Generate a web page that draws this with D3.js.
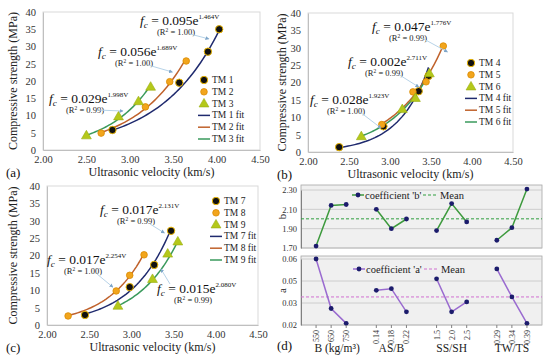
<!DOCTYPE html>
<html>
<head>
<meta charset="utf-8">
<script src="https://cdn.jsdelivr.net/npm/d3@7"></script>
<style>
  body { margin: 0; background: #fff; }
</style>
</head>
<body>
<svg id="chart" width="550" height="358" font-family="Liberation Serif, DejaVu Serif, serif"></svg>
<script>
// ---- data ----
var mixNames = ["TM 1", "TM 2", "TM 3", "TM 4", "TM 5", "TM 6", "TM 7", "TM 8", "TM 9"];
var velocity = [
  [2.80, 3.57, 3.90, 4.03],
  [2.67, 3.18, 3.46, 3.65],
  [2.50, 2.87, 3.10, 3.24],
  [2.38, 2.92, 3.35, 3.47],
  [2.90, 3.28, 3.44, 3.65],
  [2.65, 3.15, 3.31, 3.48],
  [2.45, 2.98, 3.27, 3.47],
  [2.25, 2.82, 2.98, 3.15],
  [2.84, 3.25, 3.43, 3.55]
];
var strength = [
  [5.8, 19.5, 28.5, 35.0],
  [4.9, 12.5, 19.8, 25.8],
  [4.2, 9.7, 14.1, 18.3],
  [1.4, 7.4, 17.5, 21.9],
  [7.9, 17.3, 20.2, 30.5],
  [4.5, 12.3, 15.5, 22.6],
  [2.9, 10.9, 17.3, 27.1],
  [2.6, 9.8, 14.3, 20.2],
  [5.5, 13.2, 20.5, 24.0]
];
var coefA = [0.095, 0.056, 0.029, 0.002, 0.047, 0.028, 0.017, 0.017, 0.015];
var coefB = [1.464, 1.689, 1.998, 2.711, 1.776, 1.923, 2.131, 2.254, 2.080];
var rSquared = ["1.00", "1.00", "0.99", "0.99", "0.99", "1.00", "0.99", "1.00", "0.99"];
var xTicks = [2.00, 2.50, 3.00, 3.50, 4.00, 4.50];
var yTicks = [0, 5, 10, 15, 20, 25, 30, 35, 40];

var factorNames = ["B (kg/m\u00b3)", "AS/B", "SS/SH", "TW/TS"];
var levelNames = [["550", "650", "750"], ["0.14", "0.18", "0.22"], ["1.5", "2.0", "2.5"], ["0.29", "0.34", "0.39"]];
var levelB = [[1.72, 2.14, 2.15], [2.10, 1.90, 2.00], [1.88, 2.16, 1.97], [1.78, 1.91, 2.31]];
var levelA = [[0.060, 0.030, 0.021], [0.041, 0.042, 0.028], [0.048, 0.028, 0.034], [0.054, 0.037, 0.021]];
var bTicks = [1.70, 1.90, 2.10, 2.30];
var aTicks = [0.02, 0.02 + 0.04 / 3, 0.02 + 0.08 / 3, 0.06];

// ---- styles ----
var serif = "'Liberation Serif', 'DejaVu Serif', serif";
var fitColor = ["#1f2a6e", "#c0622c", "#3a9a5c"];
var svg = d3.select("#chart");

var panels = [
  {tag: "(a)", series: [0, 1, 2], l: 43, r: 260, t: 12, b: 150, tagX: 6, titleX: 13,
   legX: 204, legY: 80,
   notes: [
     {s: 0, x: 140, y: 25, from: [190, 34], tip: [3.91, 32.2]},
     {s: 1, x: 98, y: 56, from: [148, 65], tip: [3.49, 22.6]},
     {s: 2, x: 49, y: 103, from: [97, 110], tip: [2.92, 11.3]}]},
  {tag: "(b)", series: [3, 4, 5], l: 308, r: 513, t: 13, b: 152, tagX: 277, titleX: 282,
   legX: 471, legY: 63,
   notes: [
     {s: 4, x: 372, y: 31, from: [422, 38], tip: [3.70, 28.8]},
     {s: 3, x: 348, y: 66, from: [398, 74], tip: [3.35, 18.7]},
     {s: 5, x: 310, y: 104, from: [360, 112], tip: [2.89, 6.9]}]},
  {tag: "(c)", series: [6, 7, 8], l: 47, r: 258, t: 186, b: 325, tagX: 6, titleX: 13,
   legX: 216, legY: 201,
   notes: [
     {s: 6, x: 100, y: 214, from: [150, 224], tip: [3.39, 26.5]},
     {s: 7, x: 47, y: 264, from: [97, 274], tip: [2.78, 10.9]},
     {s: 8, x: 157, y: 293, from: [170, 284], tip: [3.35, 16.1]}]}
];

svg.append("defs").append("marker")
  .attr("id", "arrow").attr("viewBox", "0 0 6 6").attr("refX", 5).attr("refY", 3)
  .attr("markerWidth", 4).attr("markerHeight", 4).attr("orient", "auto")
  .append("path").attr("d", "M0,0L6,3L0,6Z").attr("fill", "#7fa6c9");

function drawMarker(g, kind, cx, cy) {
  if (kind == 0) {
    g.append("circle").attr("cx", cx).attr("cy", cy).attr("r", 3.7)
      .attr("fill", "#111").attr("stroke", "#e9b400").attr("stroke-width", 1);
  } else if (kind == 1) {
    g.append("circle").attr("cx", cx).attr("cy", cy).attr("r", 3.3)
      .attr("fill", "#f2a51c").attr("stroke", "#d98a00").attr("stroke-width", 0.8);
  } else {
    g.append("path").attr("d", d3.symbol(d3.symbolTriangle, 42)())
      .attr("transform", "translate(" + cx + "," + (cy + 0.5) + ")")
      .attr("fill", "#b4c81a").attr("stroke", "#98ad10").attr("stroke-width", 0.6);
  }
}

function equation(g, s, x, y) {
  var t = g.append("text").attr("x", x).attr("y", y).attr("font-size", 13.5).attr("fill", "#111");
  t.append("tspan").attr("font-style", "italic").text("f");
  t.append("tspan").attr("font-style", "italic").attr("font-size", 9).attr("dy", 3).text("c");
  t.append("tspan").attr("dy", -3).text(" = " + coefA[s].toFixed(3) + "e");
  t.append("tspan").attr("font-size", 7).attr("dy", -6).text(coefB[s].toFixed(3) + "V");
  var r = g.append("text").attr("x", x + 17).attr("y", y + 10).attr("font-size", 8.5).attr("fill", "#222");
  r.append("tspan").text("(R");
  r.append("tspan").attr("font-size", 5.5).attr("dy", -3).text("2");
  r.append("tspan").attr("dy", 3).text(" = " + rSquared[s] + ")");
}

panels.forEach(function(p) {
  var g = svg.append("g");
  var x = d3.scaleLinear().domain([2, 4.5]).range([p.l, p.r]);
  var y = d3.scaleLinear().domain([0, 40]).range([p.b, p.t]);

  g.append("rect").attr("x", p.l).attr("y", p.t).attr("width", p.r - p.l).attr("height", p.b - p.t)
    .attr("fill", "#fff").attr("stroke", "#d9d9d9");

  var ya = g.append("g").attr("transform", "translate(" + p.l + ",0)")
    .call(d3.axisLeft(y).tickValues(yTicks).tickSize(0).tickPadding(7).tickFormat(d3.format("d")));
  var xa = g.append("g").attr("transform", "translate(0," + p.b + ")")
    .call(d3.axisBottom(x).tickValues(xTicks).tickSize(0).tickPadding(6).tickFormat(d3.format(".2f")));
  [ya, xa].forEach(function(a) {
    a.attr("font-family", null);
    a.select(".domain").attr("stroke", "#bfbfbf");
    a.selectAll("text").attr("font-size", 10.5).attr("fill", "#333");
  });

  // fitted trendlines
  var line = d3.line().x(function(d) { return x(d[0]); }).y(function(d) { return y(d[1]); });
  p.series.forEach(function(s, k) {
    var ext = d3.extent(velocity[s]);
    var pts = d3.range(41).map(function(i) {
      var v = ext[0] + (ext[1] - ext[0]) * i / 40;
      return [v, coefA[s] * Math.exp(coefB[s] * v)];
    });
    g.append("path").attr("d", line(pts)).attr("fill", "none")
      .attr("stroke", fitColor[k]).attr("stroke-width", 1.5);
  });

  // points
  p.series.forEach(function(s, k) {
    velocity[s].forEach(function(v, i) { drawMarker(g, k, x(v), y(strength[s][i])); });
  });

  // equations + arrows
  p.notes.forEach(function(n) {
    equation(g, n.s, n.x, n.y);
    g.append("line").attr("x1", n.from[0]).attr("y1", n.from[1])
      .attr("x2", x(n.tip[0])).attr("y2", y(n.tip[1]))
      .attr("stroke", "#b7d3e8").attr("stroke-width", 1).attr("marker-end", "url(#arrow)");
  });

  // legend
  var lg = g.append("g");
  p.series.forEach(function(s, k) {
    var yy = p.legY + k * 11.8;
    drawMarker(lg, k, p.legX, yy);
    lg.append("text").attr("x", p.legX + 8).attr("y", yy + 3).attr("font-size", 9.5).attr("fill", "#222").text(mixNames[s]);
  });
  p.series.forEach(function(s, k) {
    var yy = p.legY + (k + 3) * 11.8;
    lg.append("line").attr("x1", p.legX - 6).attr("x2", p.legX + 6).attr("y1", yy).attr("y2", yy)
      .attr("stroke", fitColor[k]).attr("stroke-width", 1.5);
    lg.append("text").attr("x", p.legX + 8).attr("y", yy + 3).attr("font-size", 9.5).attr("fill", "#222").text(mixNames[s] + " fit");
  });

  // titles
  g.append("text").attr("x", (p.l + p.r) / 2).attr("y", p.b + 26).attr("text-anchor", "middle")
    .attr("font-size", 12).attr("fill", "#222").text("Ultrasonic velocity (km/s)");
  g.append("text").attr("transform", "translate(" + p.titleX + "," + ((p.t + p.b) / 2) + ") rotate(-90)")
    .attr("text-anchor", "middle").attr("dy", "0.35em").attr("font-size", 12).attr("fill", "#222")
    .text("Compressive strength (MPa)");
  g.append("text").attr("x", p.tagX).attr("y", p.b + 27).attr("font-size", 13).attr("fill", "#111").text(p.tag);
});

// ---- panel (d): level means of the fit coefficients ----
var dx = d3.scaleLinear().domain([0, 16]).range([301, 542]);
function slot(gi, li) { return gi * 4 + li + 1; }

var subs = [
  {vals: levelB, ticks: bTicks, fmt: d3.format(".2f"), top: 185, y: d3.scaleLinear().domain([1.70, 2.30]).range([248, 190]),
   lineColor: "#3d9a3d", meanColor: "#2f9e3f", label: "b", legText: "coefficient 'b'", legY: 195, legX: 352},
  {vals: levelA, ticks: aTicks, fmt: d3.format(".2f"), top: 256, y: d3.scaleLinear().domain([0.02, 0.06]).range([325, 259]),
   lineColor: "#9a6bd0", meanColor: "#d070d0", label: "a", legText: "coefficient 'a'", legY: 269, legX: 353}
];

subs.forEach(function(sp) {
  var g = svg.append("g");
  var y = sp.y, bottom = y.range()[0];
  g.append("rect").attr("x", dx(0)).attr("y", sp.top).attr("width", dx(16) - dx(0)).attr("height", bottom - sp.top)
    .attr("fill", "#f0f0f0").attr("stroke", "#a6a6a6").attr("stroke-width", 0.8);
  g.selectAll(".grid").data(sp.ticks).enter().append("line")
    .attr("x1", dx(0)).attr("x2", dx(16)).attr("y1", function(d) { return y(d); }).attr("y2", function(d) { return y(d); })
    .attr("stroke", "#c4c4c4").attr("stroke-width", 0.8);
  var ax = g.append("g").attr("transform", "translate(" + dx(0) + ",0)")
    .call(d3.axisLeft(y).tickValues(sp.ticks).tickSize(0).tickPadding(4).tickFormat(sp.fmt));
  ax.attr("font-family", null);
  ax.select(".domain").attr("stroke", "#808080");
  ax.selectAll("text").attr("font-size", 8.5).attr("fill", "#333");
  g.append("text").attr("transform", "translate(282," + ((sp.top + bottom) / 2) + ") rotate(-90)")
    .attr("text-anchor", "middle").attr("dy", "0.35em").attr("font-size", 11).attr("fill", "#222").text(sp.label);

  var all = [];
  sp.vals.forEach(function(grp) { all = all.concat(grp); });
  var mean = d3.mean(all);
  g.append("line").attr("x1", dx(0)).attr("x2", dx(16)).attr("y1", y(mean)).attr("y2", y(mean))
    .attr("stroke", sp.meanColor).attr("stroke-width", 1).attr("stroke-dasharray", "3,2");

  var line = d3.line().x(function(d) { return dx(d[0]); }).y(function(d) { return y(d[1]); });
  sp.vals.forEach(function(grp, gi) {
    var pts = grp.map(function(v, li) { return [slot(gi, li), v]; });
    g.append("path").attr("d", line(pts)).attr("fill", "none").attr("stroke", sp.lineColor).attr("stroke-width", 1.5);
    pts.forEach(function(pt) {
      g.append("circle").attr("cx", dx(pt[0])).attr("cy", y(pt[1])).attr("r", 2.4).attr("fill", "#1c1c6c");
    });
  });

  // legend
  var lx = sp.legX, ly = sp.legY;
  g.append("line").attr("x1", lx).attr("x2", lx + 12).attr("y1", ly).attr("y2", ly).attr("stroke", sp.lineColor).attr("stroke-width", 1.5);
  g.append("circle").attr("cx", lx + 6).attr("cy", ly).attr("r", 2.4).attr("fill", "#1c1c6c");
  g.append("text").attr("x", lx + 13).attr("y", ly + 3.5).attr("font-size", 10.5).attr("fill", "#222").text(sp.legText);
  g.append("line").attr("x1", lx + 71).attr("x2", lx + 86).attr("y1", ly).attr("y2", ly)
    .attr("stroke", sp.meanColor).attr("stroke-width", 1).attr("stroke-dasharray", "3,2");
  g.append("text").attr("x", lx + 88).attr("y", ly + 3.5).attr("font-size", 10.5).attr("fill", "#222").text("Mean");
});

// category labels under panel (d)
var cat = svg.append("g");
levelNames.forEach(function(grp, gi) {
  grp.forEach(function(name, li) {
    var xx = dx(slot(gi, li));
    cat.append("line").attr("x1", xx).attr("x2", xx).attr("y1", 325).attr("y2", 328).attr("stroke", "#808080");
    cat.append("text").attr("transform", "translate(" + (xx + 3) + ",330) rotate(-90)")
      .attr("text-anchor", "end").attr("font-size", 8).attr("fill", "#333").text(name);
  });
  cat.append("text").attr("x", dx(slot(gi, 1)) + (gi == 0 ? 6 : 0)).attr("y", 352).attr("text-anchor", "middle")
    .attr("font-size", 11.5).attr("fill", "#222").text(factorNames[gi]);
});
svg.append("text").attr("x", 277).attr("y", 350).attr("font-size", 13).attr("fill", "#111").text("(d)");

svg.selectAll("text").style("font-family", serif);
</script>
</body>
</html>
